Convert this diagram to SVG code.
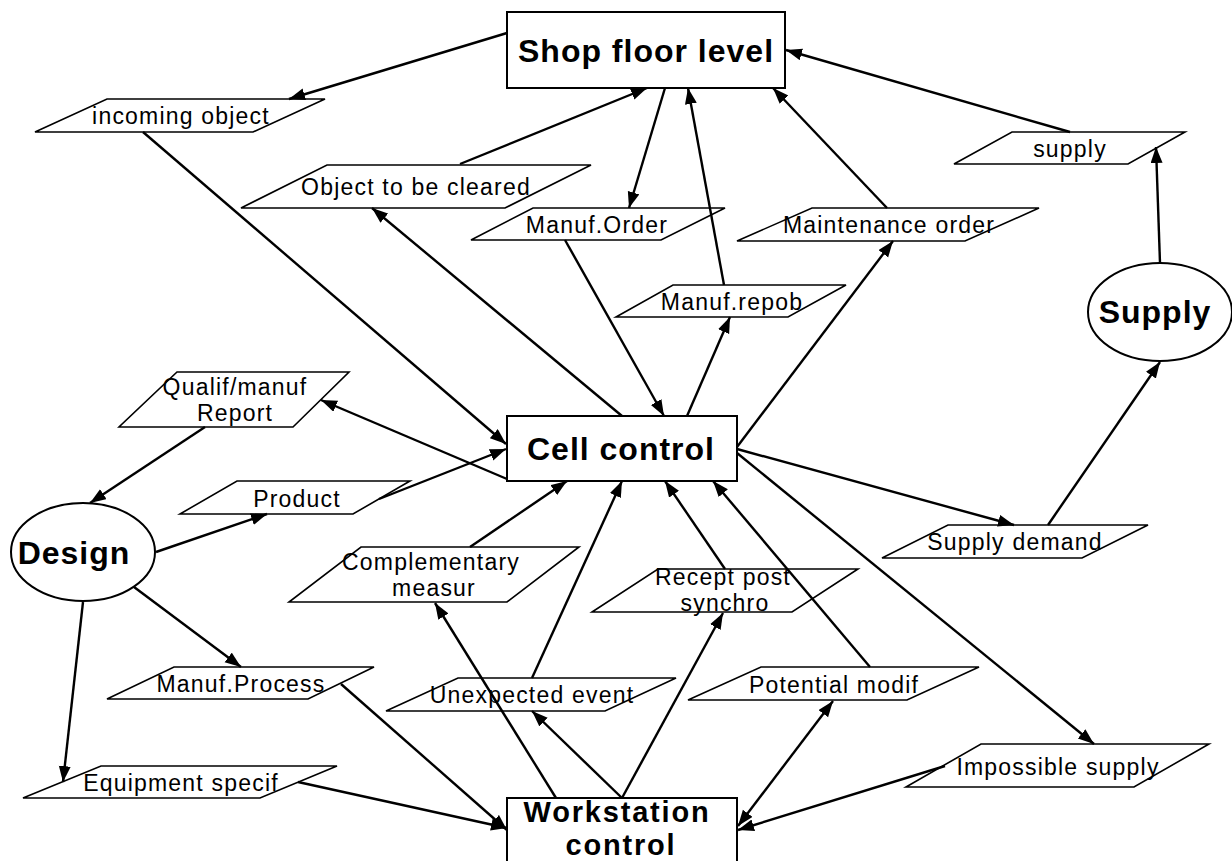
<svg xmlns="http://www.w3.org/2000/svg" width="1232" height="861" viewBox="0 0 1232 861">
  <style>
    .box { fill: #fff; stroke: #000; stroke-width: 2; }
    .data { fill: #fff; stroke: #000; stroke-width: 1.6; stroke-linejoin: miter; }
    .title { font-family: "Liberation Sans", Arial, sans-serif; font-size: 32px; font-weight: bold; letter-spacing: 1px; text-anchor: middle; fill: #000; }
    .title.tight { font-size: 29px; letter-spacing: 1.8px; }
    .label { font-family: "Liberation Sans", Arial, sans-serif; font-size: 23px; letter-spacing: 1.2px; text-anchor: middle; fill: #000; }
    .edge { fill: none; stroke: #000; stroke-width: 2.4; marker-end: url(#arrow); }
    .both { marker-start: url(#arrow-rev); }
  </style>
  <defs>
    <marker id="arrow" markerUnits="userSpaceOnUse" markerWidth="17" markerHeight="13" refX="16" refY="6" orient="auto">
      <path d="M0,0 L16,6 L0,12 z" fill="#000"/>
    </marker>
    <marker id="arrow-rev" markerUnits="userSpaceOnUse" markerWidth="17" markerHeight="13" refX="16" refY="6" orient="auto-start-reverse">
      <path d="M0,0 L16,6 L0,12 z" fill="#000"/>
    </marker>
  </defs>
  <rect width="1232" height="861" fill="#fff"/>

  <!-- control levels -->
  <g id="shop-floor">
    <rect class="box" x="507" y="12" width="278" height="76"/>
    <text class="title" x="646" y="62">Shop floor level</text>
  </g>
  <g id="cell-control">
    <rect class="box" x="507" y="416" width="230" height="65"/>
    <text class="title" x="621" y="460">Cell control</text>
  </g>
  <g id="workstation-control">
    <rect class="box" x="507" y="798" width="230" height="100"/>
    <text class="title tight" x="617" y="822">Workstation</text>
    <text class="title tight" x="621" y="854.5">control</text>
  </g>
  <g id="design">
    <ellipse class="box" cx="83" cy="552" rx="72" ry="49"/>
    <text class="title" x="74" y="564">Design</text>
  </g>
  <g id="supply-unit">
    <ellipse class="box" cx="1160" cy="312" rx="72" ry="49"/>
    <text class="title" x="1155" y="323">Supply</text>
  </g>

  <!-- exchanged data -->
  <g id="incoming-object">
    <polygon class="data" points="107,99 325,99 253,132 35,132"/>
    <text class="label" x="181" y="124">incoming object</text>
  </g>
  <g id="object-to-be-cleared">
    <polygon class="data" points="327,165 591,165 505,208 241,208"/>
    <text class="label" x="416" y="195">Object to be cleared</text>
  </g>
  <g id="manuf-order">
    <polygon class="data" points="533,208 725,208 661,240 471,240"/>
    <text class="label" x="597" y="233">Manuf.Order</text>
  </g>
  <g id="manuf-repob">
    <polygon class="data" points="673,285 846,285 788,317 616,317"/>
    <text class="label" x="732" y="310">Manuf.repob</text>
  </g>
  <g id="maintenance-order">
    <polygon class="data" points="812,208 1039,208 965,241 737,241"/>
    <text class="label" x="889" y="233">Maintenance order</text>
  </g>
  <g id="supply">
    <polygon class="data" points="1012,132 1185,132 1128,164 954,164"/>
    <text class="label" x="1070" y="157">supply</text>
  </g>
  <g id="qualif-report">
    <polygon class="data" points="177,372 349,372 293,427 119,427"/>
    <text class="label" x="235" y="395">Qualif/manuf</text>
    <text class="label" x="235" y="421">Report</text>
  </g>
  <g id="product">
    <polygon class="data" points="237,481 410,481 353,514 180,514"/>
    <text class="label" x="297" y="507">Product</text>
  </g>
  <g id="complementary-measur">
    <polygon class="data" points="361,547 579,547 507,602 289,602"/>
    <text class="label" x="431" y="570">Complementary</text>
    <text class="label" x="434" y="596">measur</text>
  </g>
  <g id="recept-post-synchro">
    <polygon class="data" points="658,569 858,569 792,612 592,612"/>
    <text class="label" x="723" y="585">Recept post</text>
    <text class="label" x="725" y="611">synchro</text>
  </g>
  <g id="unexpected-event">
    <polygon class="data" points="458,678 676,678 605,711 386,711"/>
    <text class="label" x="532" y="703">Unexpected event</text>
  </g>
  <g id="potential-modif">
    <polygon class="data" points="761,667 979,667 907,700 688,700"/>
    <text class="label" x="834" y="693">Potential modif</text>
  </g>
  <g id="impossible-supply">
    <polygon class="data" points="981,744 1209,744 1134,787 906,787"/>
    <text class="label" x="1058" y="775">Impossible supply</text>
  </g>
  <g id="supply-demand">
    <polygon class="data" points="948,525 1148,525 1082,558 882,558"/>
    <text class="label" x="1015" y="550">Supply demand</text>
  </g>
  <g id="manuf-process">
    <polygon class="data" points="174,667 374,667 308,699 107,699"/>
    <text class="label" x="241" y="692">Manuf.Process</text>
  </g>
  <g id="equipment-specif">
    <polygon class="data" points="101,766 337,766 260,798 23,798"/>
    <text class="label" x="181" y="791">Equipment specif</text>
  </g>

  <!-- flows -->
  <g id="connectors">
    <line class="edge" x1="507" y1="33" x2="289" y2="99"/>
    <line class="edge" x1="143" y1="132" x2="506" y2="444"/>
    <line class="edge" x1="460" y1="164" x2="647" y2="88"/>
    <line class="edge" x1="622" y1="416" x2="372" y2="208"/>
    <line class="edge" x1="665" y1="88" x2="629" y2="208"/>
    <line class="edge" x1="565" y1="240" x2="664" y2="416"/>
    <line class="edge" x1="724" y1="285" x2="688" y2="88"/>
    <line class="edge" x1="687" y1="416" x2="730" y2="317"/>
    <line class="edge" x1="887" y1="208" x2="773" y2="88"/>
    <line class="edge" x1="737" y1="447" x2="893" y2="241"/>
    <line class="edge" x1="1070" y1="132" x2="786" y2="50"/>
    <line class="edge" x1="1160" y1="263" x2="1156" y2="147"/>
    <line class="edge" x1="1048" y1="525" x2="1160" y2="362"/>
    <line class="edge" x1="737" y1="449" x2="1014" y2="525"/>
    <line class="edge" x1="737" y1="453" x2="1094" y2="744"/>
    <line class="edge" x1="945" y1="766" x2="738" y2="830"/>
    <line class="edge both" x1="738" y1="826" x2="833" y2="701"/>
    <line class="edge" x1="870" y1="667" x2="713" y2="481"/>
    <line class="edge" x1="725" y1="569" x2="665" y2="481"/>
    <line class="edge" x1="622" y1="798" x2="723" y2="613"/>
    <line class="edge" x1="532" y1="678" x2="622" y2="481"/>
    <line class="edge" x1="622" y1="798" x2="532" y2="711"/>
    <line class="edge" x1="556" y1="798" x2="435" y2="603"/>
    <line class="edge" x1="470" y1="547" x2="567" y2="481"/>
    <line class="edge" x1="507" y1="479" x2="321" y2="400"/>
    <line class="edge" x1="205" y1="427" x2="90" y2="503"/>
    <line class="edge" x1="379" y1="499" x2="506" y2="449"/>
    <line class="edge" x1="156" y1="552" x2="267" y2="514"/>
    <line class="edge" x1="134" y1="587" x2="241" y2="667"/>
    <line class="edge" x1="83" y1="602" x2="63" y2="782"/>
    <line class="edge" x1="341" y1="684" x2="507" y2="830"/>
    <line class="edge" x1="298" y1="782" x2="507" y2="828"/>
  </g>
</svg>
